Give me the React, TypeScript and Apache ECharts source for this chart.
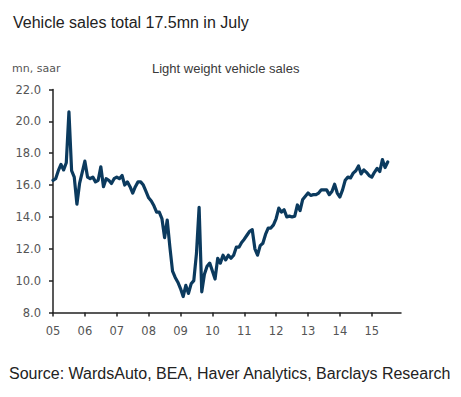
import React, { useEffect, useRef } from "react";
import * as echarts from "echarts";

// Monthly light-weight vehicle sales, mn saar, Jan 2005 .. Jul 2015
const sales2005 = [16.3, 16.4, 16.9, 17.3, 16.95, 17.4, 20.6, 16.9, 16.5, 14.8, 16.1, 16.8];
const sales2006 = [17.5, 16.5, 16.4, 16.5, 16.2, 16.3, 17.15, 15.9, 16.4, 16.3, 16.1, 16.4];
const sales2007 = [16.5, 16.4, 16.6, 16.0, 16.2, 15.9, 15.5, 15.9, 16.2, 16.2, 16.0, 15.6];
const sales2008 = [15.2, 15.0, 14.7, 14.3, 14.3, 13.9, 12.7, 13.8, 12.1, 10.6, 10.2, 9.9];
const sales2009 = [9.5, 9.0, 9.7, 9.2, 9.8, 10.0, 11.7, 14.6, 9.3, 10.4, 10.9, 11.1];
const sales2010 = [10.6, 10.1, 11.4, 11.1, 11.6, 11.3, 11.6, 11.4, 11.6, 12.1, 12.1, 12.4];
const sales2011 = [12.6, 12.85, 13.1, 13.2, 12.0, 11.6, 12.2, 12.35, 12.9, 13.3, 13.3, 13.5];
const sales2012 = [13.9, 14.55, 14.3, 14.45, 14.0, 14.05, 14.0, 14.05, 14.75, 14.4, 15.1, 15.3];
const sales2013 = [15.5, 15.35, 15.4, 15.4, 15.5, 15.7, 15.7, 15.7, 15.4, 15.6, 16.05, 15.5];
const sales2014 = [15.25, 15.7, 16.3, 16.5, 16.45, 16.75, 16.9, 17.2, 16.7, 16.95, 16.8, 16.6];
const sales2015 = [16.5, 16.8, 17.05, 16.85, 17.6, 17.1, 17.45];

const years = [2005, 2006, 2007, 2008, 2009, 2010, 2011, 2012, 2013, 2014, 2015];
const sales = [
  ...sales2005, ...sales2006, ...sales2007, ...sales2008, ...sales2009, ...sales2010,
  ...sales2011, ...sales2012, ...sales2013, ...sales2014, ...sales2015,
];

// month categories Jan 2005 .. Dec 2015
const months: string[] = [];
years.forEach((y) => {
  for (let m = 1; m <= 12; m++) months.push(`${y}-${m < 10 ? "0" + m : m}`);
});

const titleText = "Vehicle sales total 17.5mn in July";
const unitText = "mn, saar";
const seriesName = "Light weight vehicle sales";
const sourceText = "Source: WardsAuto, BEA, Haver Analytics, Barclays Research";

export default function App() {
  const ref = useRef<HTMLDivElement>(null);
  useEffect(() => {
    if (!ref.current) return;
    const chart = echarts.init(ref.current, null, { renderer: "svg" });
    const axisColor = "#222";
    const labelColor = "#555";
    chart.setOption({
      animation: false,
      backgroundColor: "#fff",
      grid: { left: 53, right: 60, top: 89.5, bottom: 84.5, containLabel: false },
      xAxis: {
        type: "category",
        data: months,
        boundaryGap: false,
        axisLine: { lineStyle: { color: axisColor, width: 1.5 } },
        axisTick: { interval: 11, length: 4, inside: false, lineStyle: { color: axisColor, width: 1.5 } },
        axisLabel: {
          interval: 11,
          margin: 12,
          color: labelColor,
          fontFamily: "DejaVu Sans",
          fontSize: 11.5,
          formatter: (v: string) => v.slice(2, 4),
        },
        splitLine: { show: false },
      },
      yAxis: {
        type: "value",
        min: 8,
        max: 22,
        interval: 2,
        axisLine: { show: true, lineStyle: { color: axisColor, width: 1.5 } },
        axisTick: { show: true, length: 4, lineStyle: { color: axisColor, width: 1.5 } },
        axisLabel: {
          margin: 12,
          color: labelColor,
          fontFamily: "DejaVu Sans",
          fontSize: 11.5,
          formatter: (v: number) => v.toFixed(1),
        },
        splitLine: { show: false },
      },
      series: [
        {
          type: "line",
          name: seriesName,
          data: sales,
          showSymbol: false,
          symbol: "none",
          lineStyle: { color: "#0b3a5e", width: 3.2, join: "round", cap: "round" },
        },
      ],
      graphic: [
        {
          type: "text",
          left: 13,
          top: 14,
          style: { text: titleText, fontFamily: "Liberation Sans, Arial", fontSize: 16, fill: "#222" },
        },
        {
          type: "text",
          left: 12,
          top: 63,
          style: { text: unitText, fontFamily: "DejaVu Sans", fontSize: 11, fill: labelColor },
        },
        {
          type: "text",
          left: 152,
          top: 62,
          style: { text: seriesName, fontFamily: "Liberation Sans Narrow, Liberation Sans", fontSize: 13, fill: "#3a3a3a" },
        },
        {
          type: "text",
          left: 9,
          top: 365,
          style: { text: sourceText, fontFamily: "Liberation Sans, Arial", fontSize: 16, fill: "#222" },
        },
      ],
    });
    return () => chart.dispose();
  }, []);
  return (
    <div
      ref={ref}
      style={{ position: "fixed", left: 0, top: 0, width: 461, height: 397, background: "#fff" }}
    />
  );
}
